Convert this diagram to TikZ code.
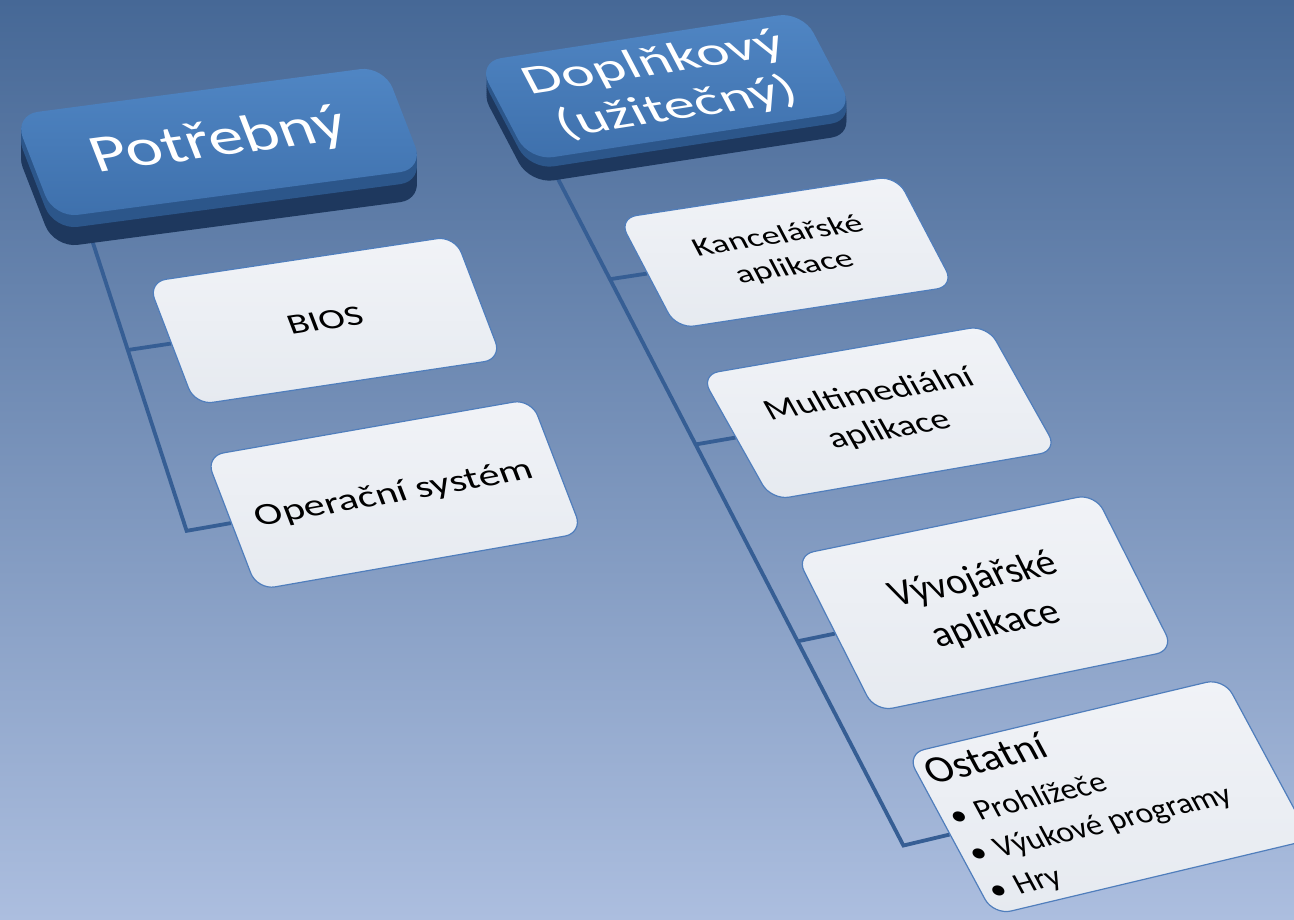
\documentclass[tikz,border=0pt]{standalone}
\usepackage{fontspec}
\setmainfont{Carlito}
\definecolor{bgtop}{RGB}{70,104,150}
\definecolor{bgbot}{RGB}{172,190,223}
\definecolor{linec}{RGB}{54,94,148}
\definecolor{facetop}{RGB}{80,134,196}
\definecolor{facebot}{RGB}{62,112,172}
\definecolor{sidemid}{RGB}{44,86,138}
\definecolor{sidedark}{RGB}{30,56,94}
\definecolor{boxtop}{RGB}{241,243,247}
\definecolor{boxbot}{RGB}{230,234,240}
\definecolor{boxedge}{RGB}{80,126,188}
\pgfdeclarelayer{bg}
\pgfdeclarelayer{connlayer}
\pgfsetlayers{bg,connlayer,main}
\begin{document}
\begin{tikzpicture}[x=1pt,y=1pt,
  childbox/.style={draw=boxedge, line width=1.2pt, top color=boxtop, bottom color=boxbot,
    rounded corners=18pt, minimum width=300pt, minimum height=170pt, inner sep=0pt,
    transform shape, align=center, text=black, font=\fontsize{38}{48}\selectfont},
  headface/.style={top color=facetop, bottom color=facebot, rounded corners=24pt,
    inner sep=0pt, transform shape, align=center, text=white},
  conn/.style={draw=linec, line width=3.8pt, line join=miter}]
\useasboundingbox (0,0) rectangle (1294,920);
\begin{pgfonlayer}{bg}
\fill[top color=bgtop, bottom color=bgbot] (0,0) rectangle (1294,920);
\end{pgfonlayer}

% ---------- header Potrebny ----------
\foreach \s in {30,28,...,14}{
  \begin{scope}[shift={(0,-\s)}, cm={1.0278,0.1361,-0.2963,0.763,(14,805)}]
  \fill[sidedark, rounded corners=24pt] (0,0) rectangle (360,-135);
  \end{scope}}
\foreach \s in {12,10,...,2}{
  \begin{scope}[shift={(0,-\s)}, cm={1.0278,0.1361,-0.2963,0.763,(14,805)}]
  \fill[sidemid, rounded corners=24pt] (0,0) rectangle (360,-135);
  \end{scope}}
\begin{scope}[cm={1.0278,0.1361,-0.2963,0.763,(14,805)}]
\node[headface, minimum width=360pt, minimum height=135pt,
  font=\fontsize{67}{68}\selectfont] (pot) at (180,-67.5) {Potřebný};
\end{scope}

% ---------- header Doplnkovy ----------
\foreach \s in {22,20,...,10}{
  \begin{scope}[shift={(0,-\s)}, cm={0.9559,0.1471,-0.325,0.6188,(478,857)}]
  \fill[sidedark, rounded corners=24pt] (0,0) rectangle (340,-160);
  \end{scope}}
\foreach \s in {8,6,...,2}{
  \begin{scope}[shift={(0,-\s)}, cm={0.9559,0.1471,-0.325,0.6188,(478,857)}]
  \fill[sidemid, rounded corners=24pt] (0,0) rectangle (340,-160);
  \end{scope}}
\begin{scope}[cm={0.9559,0.1471,-0.325,0.6188,(478,857)}]
\node[headface, minimum width=340pt, minimum height=160pt,
  font=\fontsize{63}{72}\selectfont] (dop) at (170,-78) {Doplňkový\\(užitečný)};
\end{scope}

% ---------- child boxes ----------
\begin{scope}[cm={1.0233,0.1533,-0.2765,0.7235,(148,638)}]
\node[childbox] (bios) at (150,-85) {BIOS};
\end{scope}
\begin{scope}[cm={1.085,0.19,-0.3029,0.7882,(205.75,464)}]
\node[childbox] (os) at (150,-85) {Operační systém};
\end{scope}
\begin{scope}[cm={0.9267,0.1417,-0.3412,0.65,(618.5,701.75)}]
\node[childbox] (kanc) at (150,-85) {Kancelářské\\aplikace};
\end{scope}
\begin{scope}[cm={0.955,0.165,-0.4147,0.7382,(700.75,545.25)}]
\node[childbox] (multi) at (150,-85) {Multimediální\\aplikace};
\end{scope}
\begin{scope}[cm={0.9967,0.205,-0.4647,0.9206,(796,364.75)}]
\node[childbox] (vyv) at (150,-85) {Vývojářské\\aplikace};
\end{scope}
\begin{scope}[cm={1.0367,0.2467,-0.4941,0.9176,(903,166.5)}]
\node[childbox, minimum width=306pt, minimum height=176pt, align=flush left,
  text width=290pt, font=\fontsize{30}{40}\selectfont] (ost) at (156,-89)
  {{\fontsize{39}{44}\selectfont Ostatní}\\[6pt]
   •\hspace{0.3em}Prohlížeče\\
   •\hspace{0.3em}Výukové programy\\
   •\hspace{0.3em}Hry};
\end{scope}

% ---------- connectors ----------
\coordinate (ltop) at (79,720);
\coordinate (lbase) at (187,388);
\coordinate (rtop) at (543,770);
\coordinate (rbase) at (902,77);
\coordinate (jos) at (intersection of ltop--lbase and os.west--os.east);
\coordinate (jbios) at (intersection of ltop--lbase and bios.west--bios.east);
\coordinate (jost) at (intersection of rtop--rbase and ost.west--ost.east);
\coordinate (jkanc) at (intersection of rtop--rbase and kanc.west--kanc.east);
\coordinate (jmulti) at (intersection of rtop--rbase and multi.west--multi.east);
\coordinate (jvyv) at (intersection of rtop--rbase and vyv.west--vyv.east);
\begin{pgfonlayer}{connlayer}
\draw[conn] (ltop) -- (jos) -- (os.west);
\draw[conn] (jbios) -- (bios.west);
\draw[conn] (rtop) -- (jost) -- (ost.west);
\draw[conn] (jkanc) -- (kanc.west);
\draw[conn] (jmulti) -- (multi.west);
\draw[conn] (jvyv) -- (vyv.west);
\end{pgfonlayer}
\end{tikzpicture}
\end{document}
